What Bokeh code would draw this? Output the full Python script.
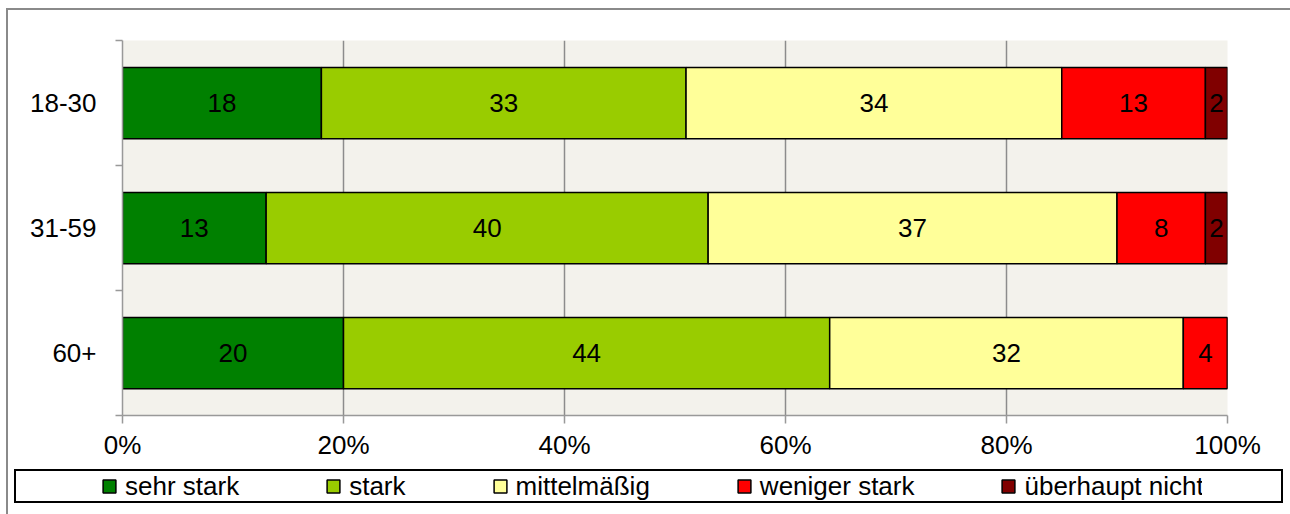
from bokeh.plotting import figure
from bokeh.layouts import column
from bokeh.models import (Range1d, FixedTicker, Legend, LegendItem, ColumnDataSource,
                          InlineStyleSheet)
from bokeh.core.properties import value
from bokeh.embed import file_html
from bokeh.resources import INLINE

# ---------------- data ----------------
categories = ["18-30", "31-59", "60+"]
series = ["sehr stark", "stark", "mittelmäßig", "weniger stark", "überhaupt nicht"]
sehr_stark = [18, 13, 20]
stark = [33, 40, 44]
mittelmaessig = [34, 37, 32]
weniger_stark = [13, 8, 4]
ueberhaupt_nicht = [2, 2, 0]
x_ticks = [0, 20, 40, 60, 80, 100]
x_tick_labels = ["0%", "20%", "40%", "60%", "80%", "100%"]
colors = ["#008000", "#99CC00", "#FFFF99", "#FF0000", "#800000"]

FONT = "Liberation Sans"
FS = "26px"
W = 1290
H1, H2 = 466, 48
FL, FR, FT = 122, 63, 40
FB = H1 - 415

n = len(categories)
ypos = [n - i - 0.5 for i in range(n)]  # first category at top

p = figure(width=W, height=H1, x_range=Range1d(0, 100), y_range=Range1d(0, n),
           output_backend="svg", toolbar_location=None,
           min_border_left=FL, min_border_right=FR, min_border_top=FT,
           min_border_bottom=FB)
p.background_fill_color = "#F3F2EC"
p.border_fill_color = "white"
p.outline_line_color = None

# ---------------- bars ----------------
keys = ["s0", "s1", "s2", "s3", "s4"]
vals = [sehr_stark, stark, mittelmaessig, weniger_stark, ueberhaupt_nicht]
src = ColumnDataSource(dict(y=ypos, **{k: v for k, v in zip(keys, vals)}))
rends = p.hbar_stack(keys, y="y", height=0.57, fill_color=colors,
                     line_color="black", line_width=1.5, source=src)

# value labels
lx, ly, lt = [], [], []
for ci in range(n):
    cum = 0
    for v in vals:
        vv = v[ci]
        if vv > 0:
            lx.append(cum + vv / 2)
            ly.append(ypos[ci])
            lt.append(str(vv))
        cum += vv
p.text(x="x", y="y", text="t", source=ColumnDataSource(dict(x=lx, y=ly, t=lt)),
       text_align="center", text_baseline="middle", text_font=value(FONT),
       text_font_size=value(FS), text_color="black")

# ---------------- axes ----------------
p.xaxis.ticker = FixedTicker(ticks=x_ticks)
p.xaxis.major_label_overrides = {t: l for t, l in zip(x_ticks, x_tick_labels)}
p.xaxis.major_label_text_font = FONT
p.xaxis.major_label_text_font_size = FS
p.xaxis.major_label_text_color = "black"
p.xaxis.major_tick_out = 8
p.xaxis.major_tick_in = 0
p.xaxis.major_tick_line_color = "#999999"
p.xaxis.major_tick_line_width = 1.5
p.xaxis.minor_tick_line_color = None
p.xaxis.axis_line_color = "#999999"
p.xaxis.axis_line_width = 1.5
p.xaxis.major_label_standoff = 6
p.xgrid.ticker = FixedTicker(ticks=x_ticks)
p.xgrid.grid_line_color = "#8c8c8c"
p.xgrid.grid_line_width = 1.5
p.ygrid.grid_line_color = None

p.yaxis.ticker = FixedTicker(ticks=ypos, minor_ticks=list(range(n + 1)))
p.yaxis.major_label_overrides = {y: c for y, c in zip(ypos, categories)}
p.yaxis.major_tick_line_color = None
p.yaxis.major_tick_out = 0
p.yaxis.major_tick_in = 0
p.yaxis.minor_tick_out = 7
p.yaxis.minor_tick_in = 0
p.yaxis.minor_tick_line_color = "#999999"
p.yaxis.minor_tick_line_width = 1.5
p.yaxis.axis_line_color = "#999999"
p.yaxis.axis_line_width = 1.5
p.yaxis.major_label_text_font = FONT
p.yaxis.major_label_text_font_size = FS
p.yaxis.major_label_text_color = "black"
p.yaxis.major_label_standoff = 19

# ---------------- legend strip ----------------
p2 = figure(width=W, height=H2, x_range=Range1d(0, 1), y_range=Range1d(0, 1),
            x_axis_location=None, y_axis_location=None,
            output_backend="svg", toolbar_location=None,
            min_border_left=FL, min_border_right=FR,
            min_border_top=0, min_border_bottom=0)
p2.xgrid.grid_line_color = None
p2.ygrid.grid_line_color = None
p2.background_fill_color = "white"
p2.border_fill_color = "white"
p2.outline_line_color = None

GW, GB = 32, 36  # legend glyph box; square marker drawn at 0.4 of it, centred
leg_items = []
for c, lab in zip(colors, series):
    # stand-in renderer (outside the visible range) carrying the series' bar style
    r = p2.scatter(x=[-10], y=[-10], marker="square", size=13, fill_color=c,
                   line_color="black", line_width=1.5)
    leg_items.append(LegendItem(label=lab, renderers=[r]))
legend = Legend(items=leg_items, location=(-4, 10), orientation="horizontal",
                padding=0, margin=0, spacing=78,
                border_line_color=None, background_fill_alpha=0,
                glyph_width=GW, glyph_height=GB, label_height=GB, label_standoff=0,
                label_text_font=FONT, label_text_font_size=FS, label_text_color="black")
p2.add_layout(legend)
p2.styles = {"transform": "translateX(-25px)"}

layout = column(p, p2, spacing=0)
layout.stylesheets = [InlineStyleSheet(css=(
    ":host { overflow: hidden; } "
    ":host::before { content: ''; position: absolute; left: 6px; top: 8px; "
    "width: 1300px; height: 520px; border-left: 2px solid #8a8a8a; "
    "border-top: 2px solid #8a8a8a; z-index: 5; pointer-events: none; } "
    ":host::after { content: ''; position: absolute; left: 14px; top: 469px; "
    "width: 1265px; height: 30px; border: 2px solid #000; "
    "z-index: 5; pointer-events: none; }"))]

open("out.html", "w").write(file_html(layout, INLINE))
